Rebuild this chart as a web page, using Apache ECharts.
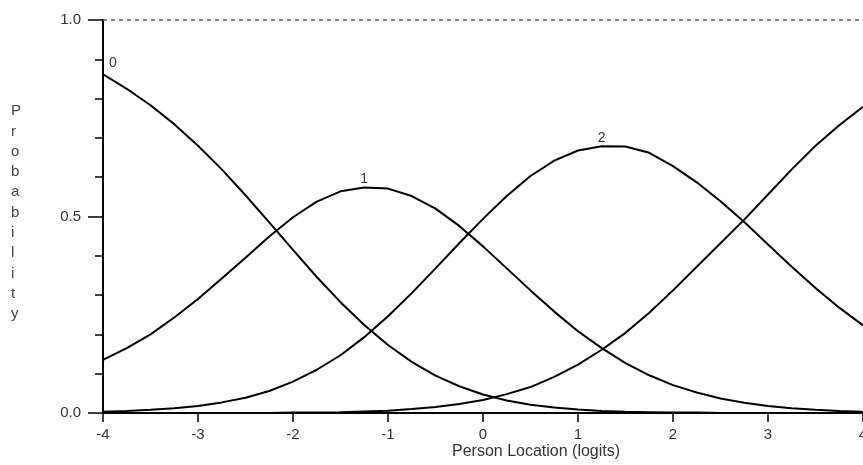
<!DOCTYPE html>
<html>
<head>
<meta charset="utf-8">
<title>Category probability curves</title>
<script src="https://cdn.jsdelivr.net/npm/echarts@6/dist/echarts.min.js"></script>
<style>
  html, body { margin: 0; padding: 0; background: #fff; }
  #main { width: 863px; height: 465px; }
</style>
</head>
<body>
<div id="main"></div>
<script>
// person location (logits)
const xValues = [-4, -3.75, -3.5, -3.25, -3, -2.75, -2.5, -2.25, -2, -1.75, -1.5, -1.25, -1, -0.75, -0.5, -0.25,
  0, 0.25, 0.5, 0.75, 1, 1.25, 1.5, 1.75, 2, 2.25, 2.5, 2.75, 3, 3.25, 3.5, 3.75, 4]
// probability of each category
const cat0 = [0.862, 0.825, 0.783, 0.735, 0.680, 0.620, 0.554, 0.485, 0.415, 0.346, 0.282, 0.224, 0.173, 0.130, 0.095, 0.068,
  0.047, 0.032, 0.021, 0.014, 0.009, 0.005, 0.003, 0.002, 0.001, 0.001, 0.000, 0.000, 0.000, 0.000, 0.000, 0.000, 0.000]
const cat1 = [0.135, 0.165, 0.200, 0.243, 0.290, 0.342, 0.395, 0.449, 0.498, 0.538, 0.564, 0.574, 0.571, 0.552, 0.520, 0.476,
  0.424, 0.368, 0.312, 0.258, 0.208, 0.165, 0.127, 0.096, 0.071, 0.052, 0.037, 0.026, 0.018, 0.012, 0.008, 0.005, 0.003]
const cat2 = [0.003, 0.005, 0.008, 0.012, 0.018, 0.027, 0.039, 0.056, 0.080, 0.110, 0.147, 0.193, 0.246, 0.305, 0.368, 0.432,
  0.494, 0.552, 0.603, 0.642, 0.668, 0.679, 0.678, 0.662, 0.628, 0.587, 0.539, 0.486, 0.429, 0.372, 0.318, 0.268, 0.223]
const cat3 = [0.000, 0.000, 0.000, 0.000, 0.000, 0.000, 0.000, 0.000, 0.001, 0.001, 0.002, 0.004, 0.006, 0.010, 0.015, 0.023,
  0.033, 0.048, 0.066, 0.092, 0.123, 0.161, 0.204, 0.255, 0.312, 0.372, 0.432, 0.492, 0.556, 0.620, 0.680, 0.732, 0.779]
const yTicks = [0, 0.5, 1]
// where the category number is written on its curve
const labelAt = { '0': -4, '1': -1.25, '2': 1.25, '3': null }

const txtColor = '#333'
const txtFont = '"Liberation Sans Narrow", "Liberation Sans", Arial, sans-serif'

function buildData(name, values) {
  return xValues.map((x, i) => {
    if (labelAt[name] === x) {
      return {
        value: [x, values[i]],
        symbol: 'circle',
        symbolSize: 1,
        label: {
          show: true,
          formatter: name,
          position: 'top',
          distance: name === '0' ? 4 : 1,
          offset: name === '0' ? [10, 0] : [0, 0],
          color: txtColor,
          fontFamily: txtFont,
          fontSize: 14,
        },
      }
    }
    return [x, values[i]]
  })
}

const chart = echarts.init(document.getElementById('main'))
const makeSeries = (name, values) => ({
  name: name,
  type: 'line',
  data: buildData(name, values),
  symbol: 'none',
  showSymbol: true,
  smooth: false,
  lineStyle: { color: '#000', width: 2 },
  itemStyle: { color: '#000' },
  silent: true,
})

const option = {
  animation: false,
  backgroundColor: '#fff',
  grid: { left: 103, right: 0, top: 20, bottom: 52, containLabel: false, outerBoundsMode: 'none' },
  xAxis: {
    type: 'value',
    min: -4,
    max: 4,
    interval: 1,
    axisLine: { show: true, onZero: false, lineStyle: { color: '#000', width: 2 } },
    axisTick: { show: true, length: 9, lineStyle: { color: '#000', width: 1.5 } },
    axisLabel: { margin: 14, color: txtColor, fontFamily: txtFont, fontSize: 15 },
    splitLine: { show: false },
  },
  yAxis: {
    type: 'value',
    min: 0,
    max: 1,
    interval: 0.5,
    axisLine: { show: true, onZero: false, lineStyle: { color: '#000', width: 2 } },
    axisTick: { show: true, length: 15, lineStyle: { color: '#000', width: 1.5 } },
    minorTick: { show: true, splitNumber: 5, length: 8, lineStyle: { color: '#000', width: 1.5 } },
    axisLabel: {
      margin: 22,
      color: txtColor,
      fontFamily: txtFont,
      fontSize: 15,
      formatter: (v) => (yTicks.indexOf(v) >= 0 ? v.toFixed(1) : ''),
    },
    splitLine: { show: false },
  },
  graphic: [
    {
      type: 'text',
      left: 452,
      top: 444,
      style: { text: 'Person Location (logits)', fill: txtColor, font: '16px ' + txtFont },
    },
    {
      type: 'text',
      left: 11,
      top: 101,
      style: {
        text: 'Probability'.split('').join('\n'),
        fill: '#444',
        font: '15px ' + txtFont,
        lineHeight: 20.3,
        align: 'center',
      },
    },
  ],
  series: [
    makeSeries('0', cat0),
    makeSeries('1', cat1),
    makeSeries('2', cat2),
    Object.assign(makeSeries('3', cat3), {
      markLine: {
        silent: true,
        symbol: 'none',
        label: { show: false },
        lineStyle: { color: '#555', type: [4, 4], width: 1.5 },
        data: [{ yAxis: 1 }],
      },
    }),
  ],
}
chart.setOption(option)
</script>
</body>
</html>
